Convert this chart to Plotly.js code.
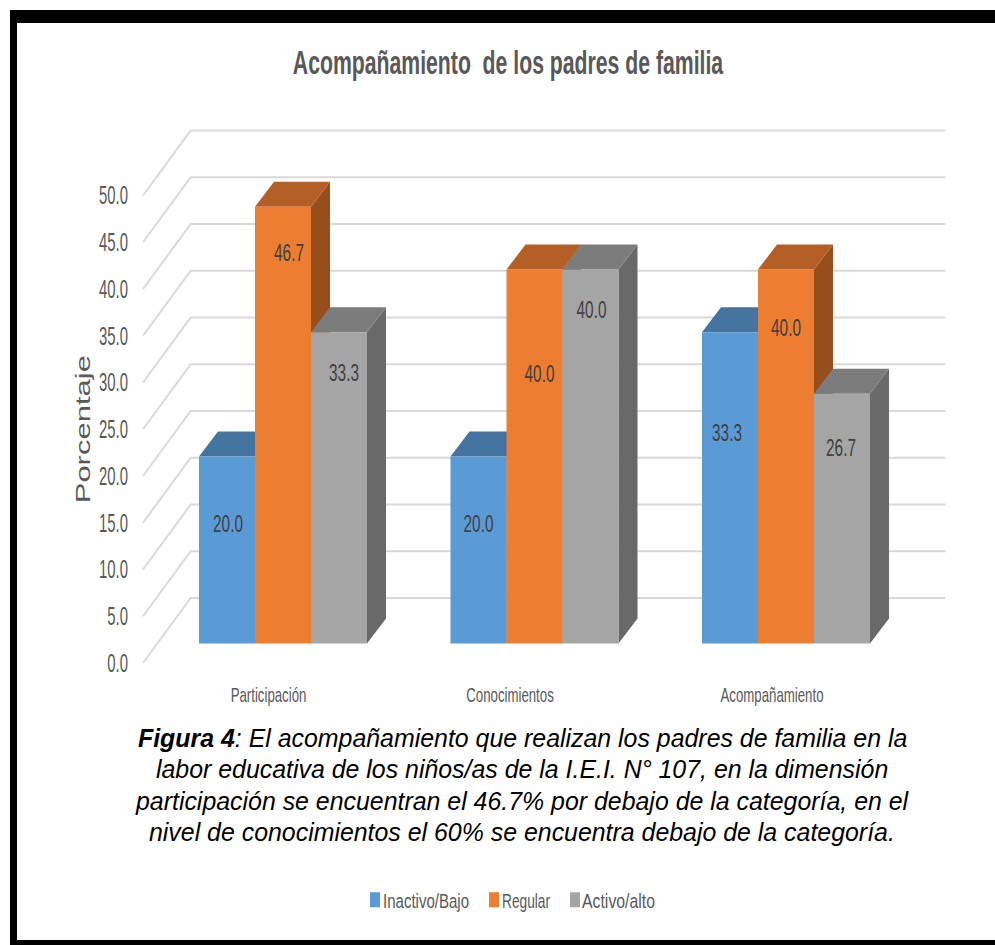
<!DOCTYPE html>
<html>
<head>
<meta charset="utf-8">
<script src="https://cdn.plot.ly/plotly-3.0.1.min.js"></script>
<style>html,body{margin:0;padding:0;background:#fff;overflow:hidden}</style>
</head>
<body>
<div id="chart" style="width:995px;height:945px"></div>
<script>
// ---- Data ----
const categories = ['Participación', 'Conocimientos', 'Acompañamiento'];
const seriesNames = ['Inactivo/Bajo', 'Regular', 'Activo/alto'];
const inactivoBajo = [20.0, 20.0, 33.3];
const regular = [46.7, 40.0, 40.0];
const activoAlto = [33.3, 40.0, 26.7];
const tickValues = [0, 5, 10, 15, 20, 25, 30, 35, 40, 45, 50];
const chartTitle = 'Acompañamiento  de los padres de familia';
const yTitle = 'Porcentaje';
const captionLines = [
  '<b>Figura 4</b>: El acompañamiento que realizan los padres de familia en la',
  'labor educativa de los niños/as de la I.E.I. N° 107, en la dimensión',
  'participación se encuentran el 46.7% por debajo de la categoría, en el',
  'nivel de conocimientos el 60% se encuentra debajo de la categoría.'
];

// ---- Layout geometry ----
const W = 995, H = 945, ML = 134;
const groupPx = 251.5, unitPx = 9.35, firstGroupPx = 283;
const barW = 56 / groupPx;
const depthX = 19 / groupPx, depthY = 25 / unitPx;
const baseY = 643.5, tickBaseY = 663;
const pxX = p => (p - firstGroupPx) / groupPx;
const sans = '"Liberation Sans", Arial, sans-serif';
const gridC = '#d9d9d9', textC = '#595959', labelC = '#404040';
const values = [inactivoBajo, regular, activoAlto];
const frontC = ['#5b9bd5', '#ed7d31', '#a5a5a5'];
const topC = ['#44749f', '#b45f25', '#7c7c7c'];
const sideC = ['#3e6d96', '#964f1c', '#696969'];
// hand-placed data label offsets of the original: drop below bar top (value units), shift right (px)
const labelDrop = [[7.4, 7.4, 11], [5.2, 11.4, 6.5], [4.6, 4.5, 6]];
const labelShift = [[1, 0, -3], [6, 5, 0], [5, 1, -1]];
const xTickPx = [268.5, 510, 772];
const legendSwatchLeft = [370, 489, 570];
const legendTextLeft = [383, 502, 582];
const legendTextWidth = [86, 48, 73];

const traces = [];

// walls: diagonal + back-wall line for each tick, on the tick axis
const wx = [], wy = [];
const wallFrontX = pxX(143), wallBackX = pxX(190.7), wallEndX = pxX(945.5), wallRise = 65 / unitPx;
tickValues.forEach(v => {
  wx.push(wallFrontX, wallBackX, wallEndX, null);
  wy.push(v, v + wallRise, v + wallRise, null);
});
traces.push({type: 'scatter', mode: 'lines', x: wx, y: wy, xaxis: 'x', yaxis: 'y',
  line: {color: gridC, width: 2}, hoverinfo: 'skip', showlegend: false});

// depth faces derived from the values, on y2 (under the fronts)
const offset = k => (k - 1) * barW;
values.forEach((vals, k) => {
  vals.forEach((v, i) => {
    const l = i + offset(k) - barW / 2, r = l + barW;
    traces.push({type: 'scatter', mode: 'lines', fill: 'toself', fillcolor: sideC[k], xaxis: 'x', yaxis: 'y2',
      x: [r, r + depthX, r + depthX, r, r], y: [0, depthY, v + depthY, v, 0],
      line: {width: 0, color: sideC[k]}, hoverinfo: 'skip', showlegend: false});
    traces.push({type: 'scatter', mode: 'lines', fill: 'toself', fillcolor: topC[k], xaxis: 'x', yaxis: 'y2',
      x: [l, r, r + depthX, l + depthX, l], y: [v, v, v + depthY, v + depthY, v],
      line: {width: 0, color: topC[k]}, hoverinfo: 'skip', showlegend: false});
  });
});

// front faces: real bars on y3
values.forEach((vals, k) => {
  traces.push({type: 'bar', name: seriesNames[k], x: [0, 1, 2], y: vals, xaxis: 'x', yaxis: 'y3',
    marker: {color: frontC[k], line: {width: 0}},
    customdata: categories, hovertemplate: '%{customdata}: %{y:.1f}<extra>' + seriesNames[k] + '</extra>'});
});

// data labels
values.forEach((vals, k) => {
  traces.push({type: 'scatter', mode: 'text', xaxis: 'x', yaxis: 'y3', showlegend: false, hoverinfo: 'skip',
    x: vals.map((v, i) => i + offset(k) + labelShift[k][i] / groupPx),
    y: vals.map((v, i) => v - labelDrop[k][i]),
    text: vals.map(v => v.toFixed(1)), textposition: 'middle center',
    textfont: {family: sans, size: 24, color: labelC}, cliponaxis: false});
});

const yRangeTick = [(tickBaseY - H) / unitPx, tickBaseY / unitPx];
const yRangeBar = [(baseY - H) / unitPx, baseY / unitPx];
const paperX = p => (p - ML) / (W - ML);

const annotations = captionLines.map((t, i) => ({
  xref: 'paper', yref: 'paper', x: paperX(522), y: 1 - (738 + i * 31.3) / H,
  xanchor: 'center', yanchor: 'middle', showarrow: false, text: '<i>' + t + '</i>',
  font: {family: sans, size: 24.9, color: '#000'}
}));
annotations.push({
  xref: 'paper', yref: 'paper', x: paperX(83), y: 1 - 429 / H, textangle: -90,
  xanchor: 'center', yanchor: 'middle', showarrow: false, text: yTitle,
  font: {family: sans, size: 20, color: textC}
});

const frame = [[10, 10, 17, 945], [10, 10, 995, 23], [10, 940, 995, 945]];
const shapes = frame.map(f => ({
  type: 'rect', xref: 'paper', yref: 'paper', layer: 'above',
  x0: paperX(f[0]), x1: paperX(f[2]), y0: 1 - f[1] / H, y1: 1 - f[3] / H,
  fillcolor: '#000', line: {width: 0}
}));

const layout = {
  width: W, height: H,
  margin: {l: ML, r: 0, t: 0, b: 0, pad: 0},
  paper_bgcolor: '#fff', plot_bgcolor: 'rgba(0,0,0,0)',
  barmode: 'group', bargap: 1 - 3 * barW, bargroupgap: 0,
  hovermode: 'closest',
  title: {text: chartTitle, x: 508 / W, xanchor: 'center', y: 1 - 62 / H, yanchor: 'middle',
    font: {family: sans, size: 34, weight: 'bold', color: textC}},
  xaxis: {type: 'linear', range: [pxX(ML), pxX(W)], anchor: 'free', position: (H - 680) / H,
    tickmode: 'array', tickvals: xTickPx.map(pxX), ticktext: categories,
    showgrid: false, zeroline: false, showline: false, ticks: '', automargin: false,
    tickfont: {family: sans, size: 21, color: textC}},
  yaxis: {range: yRangeTick, tickmode: 'array', tickvals: tickValues, ticktext: tickValues.map(v => v.toFixed(1)),
    showgrid: false, zeroline: false, showline: false, ticks: '', automargin: false,
    ticklabelstandoff: 5,
    tickfont: {family: sans, size: 25, color: textC}},
  yaxis2: {range: yRangeBar, overlaying: 'y', visible: false, anchor: 'x'},
  yaxis3: {range: yRangeBar, overlaying: 'y', visible: false, anchor: 'x'},
  legend: {orientation: 'h', x: paperX(512), xanchor: 'center', y: 1 - 900 / H, yanchor: 'middle',
    bgcolor: 'rgba(0,0,0,0)', font: {family: sans, size: 20.5, color: textC},
    itemwidth: 30, traceorder: 'normal', itemclick: false, itemdoubleclick: false},
  annotations: annotations,
  shapes: shapes
};

// The original is a horizontally squeezed picture: reproduce it by adjusting real SVG text lengths.
function stretch(selector, factor) {
  document.querySelectorAll(selector).forEach(t => {
    const len = t.getComputedTextLength();
    t.setAttribute('textLength', len * factor);
    t.setAttribute('lengthAdjust', 'spacingAndGlyphs');
  });
}

Plotly.newPlot('chart', traces, layout, {displayModeBar: false, responsive: false}).then(() => {
  stretch('.gtitle', 0.624);
  stretch('.ytick text', 0.595);
  stretch('.xtick text', 0.63);
  stretch('.textpoint text', 0.64);
  stretch('.annotation[data-index="4"] text', 1.55);
  document.querySelectorAll('.legend .traces').forEach((item, k) => {
    const sw = item.querySelector('.legendpoints path');
    const txt = item.querySelector('.legendtext');
    sw.setAttribute('d', 'M5,7.5H-5V-7.5H5Z');
    txt.setAttribute('textLength', legendTextWidth[k]);
    txt.setAttribute('lengthAdjust', 'spacingAndGlyphs');
    const m = /translate\(([-\d.]+)[ ,]*([-\d.]*)\)/.exec(item.getAttribute('transform') || '') || [0, 0, 0];
    const dx = legendSwatchLeft[k] - sw.getBoundingClientRect().left;
    item.setAttribute('transform', 'translate(' + (+m[1] + dx) + ',' + (+m[2] || 0) + ')');
    const tdx = legendTextLeft[k] - txt.getBoundingClientRect().left;
    txt.setAttribute('x', +txt.getAttribute('x') + tdx);
  });
});
</script>
</body>
</html>
